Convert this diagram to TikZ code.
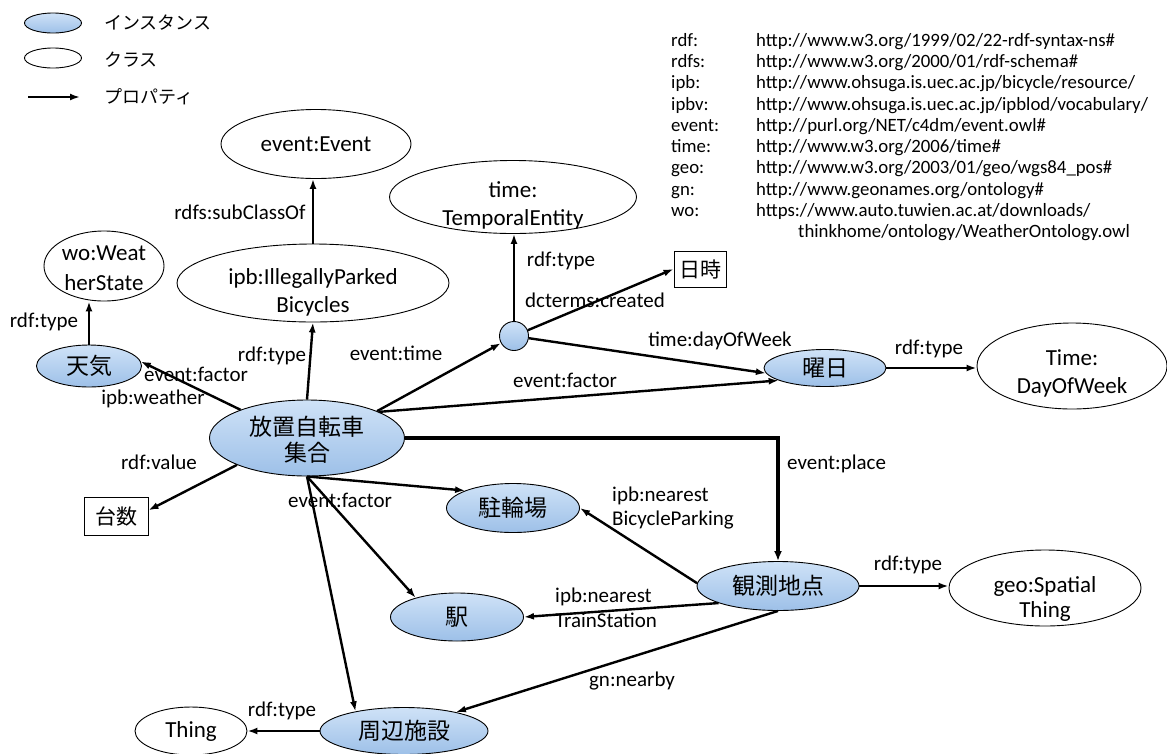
\documentclass[tikz,border=0pt]{standalone}
\usepackage{fontspec}
\setmainfont{Carlito}
\newfontfamily\cjk{Noto Sans CJK JP}
\usetikzlibrary{shapes.geometric,arrows.meta}
\definecolor{instT}{HTML}{CFE2F7}
\definecolor{instB}{HTML}{9DC0E8}
\newcommand{\lineT}{\rule{0pt}{17pt}}
\newcommand{\lineB}{\rule[-5pt]{0pt}{5pt}}
\begin{document}
\begin{tikzpicture}[x=1pt,y=-1pt,
  inst/.style={ellipse,draw=black,line width=0.9pt,top color=instT,bottom color=instB,inner sep=0pt,font=\cjk\fontsize{23}{28}\selectfont},
  cls/.style={ellipse,draw=black,line width=0.9pt,fill=white,inner sep=0pt,font=\fontsize{23}{28}\selectfont},
  lit/.style={rectangle,draw=black,line width=0.9pt,fill=white,inner sep=0pt,font=\cjk\fontsize{21}{26}\selectfont},
  ntxt/.style={font=\fontsize{23}{28}\selectfont,inner sep=0pt,align=center},
  jtxt/.style={font=\cjk\fontsize{23}{28}\selectfont,inner sep=0pt,align=center},
  elab/.style={font=\fontsize{21}{26}\selectfont,inner sep=0pt,text height=14pt,text depth=5pt},
  lgd/.style={font=\cjk\fontsize{18}{22}\selectfont,inner sep=0pt,anchor=west},
  nsp/.style={font=\fontsize{18.8}{22}\selectfont,inner sep=0pt,anchor=west,text height=13pt,text depth=4pt},
  prop/.style={line width=2.4pt,-{Latex[length=10pt,width=7pt]}},
  propthick/.style={line width=3.6pt,-{Latex[length=10pt,width=8pt]}}
]
\useasboundingbox (0,0) rectangle (1167,753);

% ---------- legend ----------
\node[inst,minimum width=57pt,minimum height=20pt] (lg1) at (53,23) {};
\node[cls,minimum width=57pt,minimum height=20pt] (lg2) at (53,58) {};
\coordinate (la) at (28,97);
\coordinate (lb) at (80,97);
\draw[prop] (la) -- (lb);
\node[lgd] (lgt1) at (104,23) {インスタンス};
\node[lgd] (lgt2) at (104,60) {クラス};
\node[lgd] (lgt3) at (104,97) {プロパティ};

% ---------- namespaces ----------
\node[nsp] (p1) at (671,42) {rdf:};
\node[nsp] (p2) at (671,63) {rdfs:};
\node[nsp] (p3) at (671,84) {ipb:};
\node[nsp] (p4) at (671,106) {ipbv:};
\node[nsp] (p5) at (671,127) {event:};
\node[nsp] (p6) at (671,148) {time:};
\node[nsp] (p7) at (671,169) {geo:};
\node[nsp] (p8) at (671,191) {gn:};
\node[nsp] (p9) at (671,212) {wo:};
\node[nsp] (u1) at (756,42) {http://www.w3.org/1999/02/22-rdf-syntax-ns\#};
\node[nsp] (u2) at (756,63) {http://www.w3.org/2000/01/rdf-schema\#};
\node[nsp] (u3) at (756,84) {http://www.ohsuga.is.uec.ac.jp/bicycle/resource/};
\node[nsp] (u4) at (756,106) {http://www.ohsuga.is.uec.ac.jp/ipblod/vocabulary/};
\node[nsp] (u5) at (756,127) {http://purl.org/NET/c4dm/event.owl\#};
\node[nsp] (u6) at (756,148) {http://www.w3.org/2006/time\#};
\node[nsp] (u7) at (756,169) {http://www.w3.org/2003/01/geo/wgs84\_pos\#};
\node[nsp] (u8) at (756,191) {http://www.geonames.org/ontology\#};
\node[nsp] (u9) at (756,212) {https://www.auto.tuwien.ac.at/downloads/};
\node[nsp] (u10) at (798,233) {thinkhome/ontology/WeatherOntology.owl};

% ---------- nodes ----------
\node[cls,minimum width=190pt,minimum height=69pt] (ev) at (316,144) {event:Event};
\node[cls,minimum width=120pt,minimum height=70pt] (wo) at (104,266) {};
\node[ntxt,font=\fontsize{23}{30}\selectfont] (woT) at (104,269) {\lineT wo:Weat\\herState\lineB};
\node[cls,minimum width=272pt,minimum height=78pt] (ipb) at (313,283) {};
\node[ntxt] (ipbT) at (313,292) {\lineT ipb:IllegallyParked\\Bicycles\lineB};
\node[cls,minimum width=247pt,minimum height=73pt] (te) at (513,197) {};
\node[ntxt] (teT) at (513,205) {\lineT time:\\TemporalEntity\lineB};
\node[inst,minimum width=105pt,minimum height=42pt] (tenki) at (89,366) {天気};
\node[inst,minimum width=195pt,minimum height=76pt] (hoch) at (307,438) {};
\node[jtxt,font=\cjk\fontsize{23}{26}\selectfont] (hochT) at (307,440) {放置自転車\\集合};
\node[circle,draw=black,line width=0.9pt,top color=instT,bottom color=instB,inner sep=0pt,minimum size=29pt] (circ) at (514,336) {};
\node[lit,minimum width=52pt,minimum height=36pt] (nichiji) at (700,269) {日時};
\node[inst,minimum width=122pt,minimum height=37pt] (youbi) at (825,368) {曜日};
\node[cls,minimum width=190pt,minimum height=86pt] (dow) at (1072,366) {};
\node[ntxt] (dowT) at (1072,373) {\lineT Time:\\DayOfWeek\lineB};
\node[lit,minimum width=64pt,minimum height=38pt] (daisu) at (116,516) {台数};
\node[inst,minimum width=133pt,minimum height=49pt] (churin) at (513,508) {駐輪場};
\node[inst,minimum width=133pt,minimum height=48pt] (eki) at (457,617) {駅};
\node[inst,minimum width=162pt,minimum height=49pt] (kan) at (778,586) {観測地点};
\node[cls,minimum width=192pt,minimum height=76pt] (geo) at (1045,588) {};
\node[ntxt,font=\fontsize{23}{25}\selectfont] (geoT) at (1045,599) {\lineT geo:Spatial\\Thing\lineB};
\node[inst,minimum width=168pt,minimum height=47pt] (shuhen) at (404,731) {周辺施設};
\node[cls,minimum width=112pt,minimum height=48pt] (thing) at (191,731) {Thing};

% ---------- edges ----------
\draw[prop] (hoch.157) -- (tenki.5);
\draw[prop] (tenki.north) -- (tenki.north |- wo.south);
\draw[prop] (hoch.north) -- (ipb.south);
\draw[prop] (ipb.north) -- (ipb.north |- ev.south);
\draw[prop] (hoch.21) -- (circ);
\draw[prop] (circ.north) -- (circ.north |- te.south);
\draw[prop] (circ) -- (nichiji.west);
\draw[prop] (circ) -- (youbi.185);
\draw[prop] (hoch.20) -- (youbi.195);
\draw[prop] (youbi.east) -- (youbi.east -| dow.west);
\draw[propthick] (hoch.east) -| (kan.north);
\draw[prop] (hoch.201) -- (daisu.10);
\draw[prop] (hoch.south) -- (churin.160);
\draw[prop] (hoch.south) -- (eki.155);
\draw[prop] (hoch.south) -- (shuhen.158);
\draw[prop] (kan.178) -- (churin.east);
\draw[prop] (kan.196) -- (eki.east);
\draw[prop] (kan.south) -- (shuhen.20);
\draw[prop] (kan.east) -- (kan.east -| geo.west);
\draw[prop] (shuhen.west) -- (thing.east);

% ---------- edge labels ----------
\node[elab] (l1) at (196,377) {event:factor};
\node[elab] (l2) at (153,400) {ipb:weather};
\node[elab] (l3) at (44,323) {rdf:type};
\node[elab] (l4) at (272,357) {rdf:type};
\node[elab] (l5) at (396,356) {event:time};
\node[elab] (l6) at (240,215) {rdfs:subClassOf};
\node[elab] (l7) at (561,262) {rdf:type};
\node[elab] (l8) at (595,303) {dcterms:created};
\node[elab] (l9) at (720,342) {time:dayOfWeek};
\node[elab] (l10) at (565,383) {event:factor};
\node[elab] (l11) at (929,350) {rdf:type};
\node[elab,anchor=west] (l12) at (787,465) {event:place};
\node[elab] (l13) at (159,465) {rdf:value};
\node[elab] (l14) at (340,503) {event:factor};
\node[elab,anchor=west] (l15) at (612,497) {ipb:nearest};
\node[elab,anchor=west] (l16) at (612,521) {BicycleParking};
\node[elab,anchor=west] (l17) at (555,598) {ipb:nearest};
\node[elab,anchor=west] (l18) at (555,623) {TrainStation};
\node[elab] (l19) at (632,682) {gn:nearby};
\node[elab] (l20) at (908,566) {rdf:type};
\node[elab] (l21) at (282,712) {rdf:type};
\end{tikzpicture}
\end{document}
